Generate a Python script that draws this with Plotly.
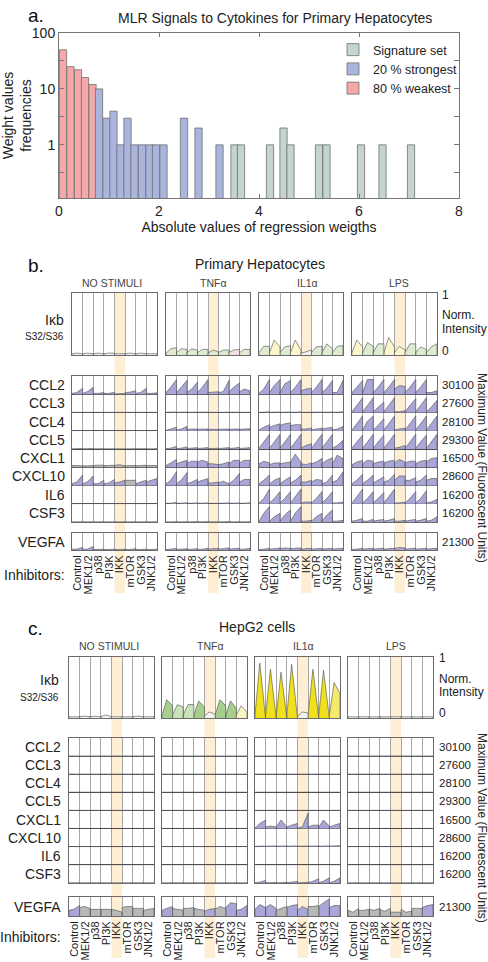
import plotly.graph_objects as go

W, H = 488, 962
FONT = "Liberation Sans, Arial, Helvetica, sans-serif"

# ---------------- panel a : histogram of |regression weights| ----------------
RED_X = [0.08, 0.23, 0.38, 0.52, 0.67]
RED_Y = [50, 25, 22, 16, 12]
BLUE_X = [0.80, 0.95, 1.09, 1.23, 1.37, 1.51, 1.66, 1.81, 1.94, 2.09, 2.50, 2.79, 3.21]
BLUE_Y = [10, 3, 4, 1, 3, 1, 1, 1, 1, 1, 3, 2, 1]
GREY_X = [3.51, 3.64, 4.22, 4.49, 4.63, 5.20, 5.35, 6.04, 6.47, 7.04]
GREY_Y = [1, 1, 1, 2, 1, 1, 1, 1, 1, 1]
BAR_W = 0.145

# ---------------- panels b / c : categories ----------------
STIMULI = ["NO STIMULI", "TNFα", "IL1α", "LPS"]
INHIBITORS = ["Control", "MEK1/2", "p38", "PI3K", "IKK", "mTOR", "GSK3", "JNK1/2"]
CYTOKINES = ["CCL2", "CCL3", "CCL4", "CCL5", "CXCL1", "CXCL10", "IL6", "CSF3"]
MAX_VALUES = ["30100", "27600", "28100", "29300", "16500", "28600", "16200", "16200"]
VEGFA_MAX = "21300"
HIGHLIGHT = "IKK"

# each cell: three time points, % of the cell height ; one list of 8 cells per stimulus
# ---- panel b (primary hepatocytes)
B_IKB = [
    [[2, 3, 2], [2, 3, 2], [2, 3, 2], [2, 3, 3], [2, 2, 2], [2, 3, 2], [2, 3, 2], [2, 2, 2]],
    [[3, 10, 12], [4, 10, 9], [4, 10, 8], [4, 9, 9], [3, 8, 5], [4, 8, 8], [4, 8, 9], [4, 9, 9]],
    [[4, 14, 14], [4, 24, 13], [4, 13, 15], [4, 24, 8], [3, 5, 8], [4, 13, 14], [4, 18, 10], [4, 14, 15]],
    [[4, 24, 13], [4, 20, 14], [4, 18, 18], [4, 28, 13], [4, 14, 8], [4, 18, 18], [4, 13, 9], [4, 13, 18]],
]
B_IKB_COL = ["wwwwwwww", "llllllrl", "lylywlll", "yllyylll"]

B_CCL2 = [
    [[5, 10, 35], [5, 15, 40], [5, 5, 10], [5, 5, 12], [3, 3, 5], [10, 12, 20], [5, 10, 35], [5, 5, 8]],
    [[10, 40, 85], [10, 40, 80], [10, 30, 70], [10, 40, 85], [10, 12, 15], [10, 15, 80], [15, 40, 65], [15, 30, 20]],
    [[5, 30, 85], [10, 50, 85], [10, 60, 80], [10, 40, 85], [20, 30, 35], [10, 40, 85], [10, 35, 80], [10, 10, 80]],
    [[10, 40, 80], [10, 85, 85], [10, 40, 85], [10, 40, 85], [30, 50, 45], [10, 40, 85], [10, 40, 85], [10, 10, 20]],
]
B_CCL3 = [
    [[1, 1, 1], [1, 1, 1], [1, 1, 1], [1, 1, 1], [1, 1, 1], [1, 1, 1], [1, 1, 1], [1, 1, 1]],
    [[1, 2, 3], [1, 2, 2], [1, 1, 2], [1, 2, 2], [1, 1, 1], [1, 1, 2], [1, 2, 2], [1, 1, 2]],
    [[1, 2, 4], [1, 2, 3], [1, 2, 3], [1, 2, 4], [1, 1, 1], [1, 2, 3], [1, 2, 3], [1, 2, 4]],
    [[5, 40, 85], [5, 40, 85], [5, 30, 60], [5, 40, 85], [5, 5, 10], [5, 40, 80], [5, 40, 85], [5, 30, 70]],
]
B_CCL4 = [
    [[1, 1, 2], [1, 1, 2], [1, 1, 2], [1, 1, 2], [1, 1, 1], [1, 1, 2], [1, 1, 2], [1, 1, 2]],
    [[2, 10, 20], [5, 10, 25], [8, 10, 10], [8, 10, 10], [8, 8, 8], [8, 10, 10], [8, 10, 10], [8, 10, 12]],
    [[5, 20, 35], [20, 30, 40], [30, 40, 45], [30, 35, 35], [10, 10, 15], [5, 10, 15], [10, 15, 20], [5, 10, 25]],
    [[5, 40, 85], [5, 55, 85], [5, 30, 70], [5, 40, 85], [5, 10, 15], [5, 40, 85], [5, 40, 85], [5, 40, 85]],
]
B_CCL5 = [
    [[1, 2, 3], [1, 2, 3], [1, 1, 2], [1, 1, 2], [1, 1, 1], [1, 1, 2], [1, 2, 2], [1, 1, 2]],
    [[2, 5, 15], [2, 5, 12], [3, 5, 8], [3, 5, 8], [3, 3, 5], [3, 5, 8], [3, 5, 10], [3, 5, 8]],
    [[5, 40, 85], [5, 40, 85], [5, 40, 85], [5, 40, 85], [5, 20, 30], [5, 40, 85], [5, 40, 85], [5, 20, 50]],
    [[5, 40, 80], [5, 40, 85], [5, 40, 80], [5, 40, 85], [5, 10, 20], [5, 40, 85], [5, 40, 80], [5, 40, 85]],
]
B_CXCL1 = [
    [[10, 10, 8], [8, 8, 10], [10, 12, 12], [10, 10, 12], [10, 15, 8], [8, 10, 10], [8, 10, 12], [10, 10, 10]],
    [[10, 25, 45], [20, 30, 40], [25, 35, 35], [30, 40, 30], [20, 20, 15], [15, 20, 30], [20, 40, 40], [25, 40, 40]],
    [[20, 35, 25], [15, 25, 25], [20, 25, 30], [30, 75, 30], [20, 15, 25], [20, 30, 50], [20, 40, 55], [20, 70, 50]],
    [[15, 30, 40], [20, 40, 35], [20, 30, 35], [25, 35, 40], [25, 45, 30], [25, 35, 35], [20, 35, 40], [30, 50, 55]],
]
B_CXCL10 = [
    [[10, 20, 60], [10, 20, 55], [10, 10, 30], [10, 15, 35], [15, 20, 30], [30, 30, 30], [10, 20, 30], [20, 30, 40]],
    [[10, 30, 80], [10, 30, 75], [10, 20, 35], [20, 30, 40], [15, 15, 20], [15, 25, 10], [10, 30, 70], [20, 35, 35]],
    [[10, 30, 60], [10, 30, 45], [10, 30, 50], [15, 30, 60], [20, 20, 30], [20, 35, 30], [10, 20, 60], [20, 30, 80]],
    [[10, 30, 65], [10, 30, 60], [15, 30, 50], [20, 30, 65], [30, 55, 55], [30, 30, 45], [20, 30, 60], [30, 40, 40]],
]
B_IL6 = [
    [[1, 1, 1], [1, 1, 1], [1, 1, 1], [1, 1, 1], [1, 1, 1], [1, 1, 1], [1, 1, 1], [1, 1, 1]],
    [[2, 3, 8], [2, 3, 6], [2, 3, 5], [2, 3, 5], [2, 2, 3], [2, 3, 5], [2, 3, 5], [2, 3, 6]],
    [[5, 30, 85], [5, 30, 70], [5, 30, 70], [5, 40, 85], [5, 10, 10], [5, 30, 70], [5, 30, 70], [5, 5, 10]],
    [[5, 40, 85], [5, 30, 70], [5, 30, 65], [5, 40, 85], [5, 5, 10], [5, 30, 70], [5, 30, 75], [5, 10, 25]],
]
B_CSF3 = [
    [[1, 1, 1], [1, 1, 1], [1, 1, 1], [1, 1, 1], [1, 1, 1], [1, 1, 1], [1, 1, 1], [1, 1, 1]],
    [[1, 1, 2], [1, 1, 2], [1, 1, 2], [1, 1, 2], [1, 1, 1], [1, 1, 2], [1, 1, 2], [1, 1, 2]],
    [[5, 50, 90], [5, 30, 50], [5, 40, 70], [5, 50, 90], [5, 5, 10], [5, 30, 50], [5, 40, 70], [5, 5, 10]],
    [[5, 10, 20], [5, 5, 15], [5, 10, 15], [5, 10, 20], [5, 5, 10], [5, 10, 15], [5, 10, 20], [5, 10, 30]],
]
B_VEGFA = [
    [[5, 5, 15], [5, 5, 20], [3, 3, 5], [3, 3, 5], [3, 3, 5], [3, 3, 8], [3, 3, 5], [3, 3, 5]],
    [[3, 5, 10], [3, 5, 8], [3, 5, 8], [3, 5, 10], [5, 8, 10], [5, 8, 12], [5, 8, 10], [5, 5, 10]],
    [[3, 5, 10], [5, 8, 12], [8, 12, 10], [8, 10, 12], [5, 8, 10], [5, 8, 10], [5, 8, 10], [5, 8, 10]],
    [[3, 5, 10], [5, 8, 10], [5, 8, 10], [5, 8, 10], [8, 15, 12], [5, 8, 10], [5, 8, 10], [5, 8, 10]],
]
B_CYTO = [B_CCL2, B_CCL3, B_CCL4, B_CCL5, B_CXCL1, B_CXCL10, B_IL6, B_CSF3]
B_CYTO_COL = [
    ["pppppppp"] * 4, ["pppppppp"] * 4, ["pppppppp"] * 4, ["pppppppp"] * 4,
    ["gggggggg", "pppppppp", "pppppppp", "pppppppp"],
    ["pppppgpp", "pppppppp", "pppppppp", "pppppppp"],
    ["pppppppp"] * 4, ["pppppppp"] * 4,
]
B_VEGFA_COL = ["pppppppp", "pppppppp", "pppppppp", "pppppppp"]

# ---- panel c (HepG2 cells)
C_FLAT = [[1, 1, 1], [1, 1, 1], [1, 1, 1], [1, 1, 1], [1, 1, 1], [1, 1, 1], [1, 1, 1], [1, 1, 1]]
C_IKB = [
    [[2, 2, 2], [2, 3, 2], [2, 3, 2], [2, 5, 2], [2, 2, 2], [2, 2, 2], [2, 3, 2], [2, 2, 2]],
    [[5, 30, 20], [5, 22, 18], [5, 22, 22], [5, 28, 18], [3, 10, 6], [5, 30, 20], [5, 28, 16], [5, 20, 10]],
    [[5, 90, 5], [5, 80, 5], [5, 75, 5], [5, 88, 5], [2, 10, 8], [5, 80, 5], [5, 78, 5], [5, 58, 40]],
    [[2, 2, 2], [2, 2, 2], [2, 2, 2], [2, 2, 2], [2, 2, 2], [2, 2, 2], [2, 2, 2], [2, 2, 2]],
]
C_IKB_COL = ["wwwwwwww", "GhhGwGGk", "YYYYwYYj", "wwwwwwww"]
C_CCL2 = [C_FLAT, C_FLAT, C_FLAT, C_FLAT]
C_CCL3 = [C_FLAT, C_FLAT, C_FLAT, C_FLAT]
C_CCL4 = [C_FLAT, C_FLAT, C_FLAT, C_FLAT]
C_CCL5 = [C_FLAT, C_FLAT, C_FLAT, C_FLAT]
C_CXCL1 = [
    C_FLAT, C_FLAT,
    [[2, 30, 50], [10, 15, 10], [10, 50, 10], [10, 20, 30], [5, 10, 90], [10, 20, 20], [10, 50, 15], [10, 20, 30]],
    C_FLAT,
]
C_CXCL10 = [
    C_FLAT, C_FLAT,
    [[2, 3, 4], [3, 4, 5], [3, 4, 5], [3, 4, 5], [3, 3, 4], [3, 4, 5], [3, 4, 5], [4, 5, 6]],
    C_FLAT,
]
C_IL6 = [C_FLAT, C_FLAT, C_FLAT, C_FLAT]
C_CSF3 = [
    C_FLAT, C_FLAT,
    [[2, 5, 15], [2, 2, 3], [2, 2, 4], [2, 5, 10], [2, 2, 5], [2, 10, 25], [2, 10, 30], [2, 10, 30]],
    C_FLAT,
]
C_VEGFA = [
    [[30, 35, 55], [45, 50, 40], [35, 35, 35], [35, 35, 35], [35, 30, 20], [45, 50, 50], [40, 40, 40], [30, 35, 40]],
    [[30, 40, 50], [40, 35, 30], [40, 40, 45], [40, 35, 30], [25, 35, 40], [35, 50, 40], [45, 70, 65], [30, 35, 55]],
    [[35, 60, 45], [45, 60, 40], [30, 40, 50], [45, 55, 60], [30, 50, 35], [50, 50, 55], [50, 70, 90], [45, 55, 55]],
    [[30, 20, 40], [30, 30, 35], [35, 30, 40], [35, 25, 40], [20, 20, 20], [35, 20, 25], [40, 40, 40], [45, 55, 60]],
]
C_CYTO = [C_CCL2, C_CCL3, C_CCL4, C_CCL5, C_CXCL1, C_CXCL10, C_IL6, C_CSF3]
C_CYTO_COL = [["pppppppp"] * 4 for _ in CYTOKINES]
C_VEGFA_COL = ["pggggggg", "pgggpgpp", "ppgppgpp", "gggggggp"]

PALETTE = {
    "p": "#aaa7d8", "g": "#b8b8b8", "w": "#f2f2f2", "l": "#deebd0", "y": "#fbf6cc",
    "r": "#f2e0e4", "G": "#a6cf8c", "h": "#c9e3b6", "Y": "#f1e01c", "j": "#f4ea6c", "k": "#faf4c2",
}
TPOS = [0.0, 0.45, 1.0]


def px(v):
    return v / W


def py(v):
    return 1 - v / H


fig = go.Figure()
lay = {}
annotations = []
shapes = []

# ---------------- panel a ----------------
for name, xs, ys, col in [("80 % weakest", RED_X, RED_Y, "#f4a8aa"),
                          ("20 % strongest", BLUE_X, BLUE_Y, "#aab5dd"),
                          ("Signature set", GREY_X, GREY_Y, "#c4d4ce")]:
    fig.add_trace(go.Bar(x=xs, y=ys, width=BAR_W, name=name, xaxis="x", yaxis="y",
                         marker=dict(color=col, line=dict(color="#6e6e6e", width=0.8)),
                         hoverinfo="skip"))

lay["xaxis"] = dict(domain=[px(59), px(459)], range=[0, 8], anchor="y", tickvals=[0, 2, 4, 6, 8],
                    ticks="inside", ticklen=4, tickcolor="#777", showline=True, mirror="ticks",
                    linecolor="#777", showgrid=False, zeroline=False, automargin=False,
                    tickfont=dict(size=14, color="#222"),
                    title=dict(text="Absolute values of regression weigths", standoff=2,
                               font=dict(size=14, color="#222")))
lay["yaxis"] = dict(domain=[py(198), py(33)], type="log", range=[-0.95, 2.0], anchor="x",
                    tickvals=[0.316, 1, 3.16, 10, 31.6, 100], ticktext=["", "1", "", "10", "", "100"],
                    ticks="inside", ticklen=5, tickcolor="#777", showline=True, mirror="ticks",
                    linecolor="#777", showgrid=False, zeroline=False, automargin=False,
                    tickfont=dict(size=14, color="#222"),
                    title=dict(text="Weight values<br>frequencies", standoff=4,
                               font=dict(size=14, color="#222")))
annotations.append(dict(text="a.", x=px(26), y=py(15), xanchor="left", yanchor="middle",
                        font=dict(size=19, color="#111"), showarrow=False, xref="paper", yref="paper"))
annotations.append(dict(text="MLR Signals to Cytokines for Primary Hepatocytes", x=px(275), y=py(18),
                        xanchor="center", yanchor="middle", font=dict(size=14, color="#222"),
                        showarrow=False, xref="paper", yref="paper"))

# ---------------- panels b / c ----------------
PANELS = [
    dict(tag="b.", title="Primary Hepatocytes", ikb=B_IKB, ikbcol=B_IKB_COL, cyto=B_CYTO, cytocol=B_CYTO_COL,
         veg=B_VEGFA, vegcol=B_VEGFA_COL,
         blocks=[(72, 157), (166, 250), (259, 343), (352, 437)],
         ikb_y=(293, 355), cyto_y=(376, 522), veg_y=(533, 550), label_bottom=593,
         tag_xy=(26, 265), title_xy=(260, 264), head_y=283, head_x=[112, 213, 307, 399],
         left_x=67, ikb_lab_x=66, ikb_lab_y=(320, 336), inhib_y=575, right_x=440,
         norm_y=[295, 315, 329, 351], vert_y=468),
    dict(tag="c.", title="HepG2 cells", ikb=C_IKB, ikbcol=C_IKB_COL, cyto=C_CYTO, cytocol=C_CYTO_COL,
         veg=C_VEGFA, vegcol=C_VEGFA_COL,
         blocks=[(69, 154), (162, 247), (255, 340), (348, 433)],
         ikb_y=(657, 718), cyto_y=(738, 883), veg_y=(897, 916), label_bottom=958,
         tag_xy=(26, 628), title_xy=(257, 627), head_y=646, head_x=[109, 210, 303, 396],
         left_x=63, ikb_lab_x=61, ikb_lab_y=(680, 697), inhib_y=937, right_x=437,
         norm_y=[658, 679, 692, 713], vert_y=828),
]

NI = len(INHIBITORS)
NC = len(CYTOKINES)
HI = INHIBITORS.index(HIGHLIGHT)


def ann(text, x, y, xa="center", size=12, color="#222", **kw):
    d = dict(text=text, x=px(x), y=py(y), xanchor=xa, yanchor="middle", showarrow=False,
             xref="paper", yref="paper", font=dict(size=size, color=color, family=FONT))
    d.update(kw)
    annotations.append(d)


ax = 2
for P in PANELS:
    ann(P["tag"], P["tag_xy"][0], P["tag_xy"][1], xa="left", size=19, color="#111")
    ann(P["title"], P["title_xy"][0], P["title_xy"][1], size=14)
    for s, stim in enumerate(STIMULI):
        ann(stim, P["head_x"][s], P["head_y"], size=10.5, color="#444")
        x0p, x1p = P["blocks"][s]
        sections = [("ikb", P["ikb_y"]), ("cyto", P["cyto_y"]), ("veg", P["veg_y"])]
        ikb_xref = None
        for kind, (ytop, ybot) in sections:
            xn, yn = "x%d" % ax, "y%d" % ax
            if ikb_xref is None:
                ikb_xref = xn
            xa = dict(domain=[px(x0p), px(x1p)], range=[0, NI], anchor=yn, showline=True, mirror=True,
                      linecolor="#6a6a6a", linewidth=1, zeroline=False, automargin=False, fixedrange=True)
            if kind == "veg":
                xa.update(tickmode="array", tickvals=[i + 0.5 for i in range(NI)], ticktext=INHIBITORS,
                          tickangle=-90, ticks="", showgrid=False,
                          tickfont=dict(size=11, color="#222", family=FONT),
                          minor=dict(tickmode="array", tickvals=list(range(1, NI)), showgrid=True,
                                     gridcolor="#a8a8a8", gridwidth=1, ticks=""))
            else:
                xa.update(showticklabels=False, ticks="", showgrid=True, dtick=1, tick0=0,
                          gridcolor="#a8a8a8", gridwidth=1)
            ya = dict(domain=[py(ybot), py(ytop)], anchor=xn, showline=True, mirror=True,
                      linecolor="#6a6a6a", linewidth=1, zeroline=False, showticklabels=False,
                      ticks="", automargin=False, fixedrange=True)
            if kind == "cyto":
                ya.update(range=[0, NC], showgrid=True, dtick=1, tick0=0, gridcolor="#505050", gridwidth=1)
            else:
                ya.update(range=[0, 1], showgrid=False)
            lay["xaxis%d" % ax] = xa
            lay["yaxis%d" % ax] = ya

            # rows of cells for this section
            if kind == "ikb":
                rows = [(0.0, 1.0, P["ikb"][s], P["ikbcol"][s])]
            elif kind == "veg":
                rows = [(0.0, 1.0, P["veg"][s], P["vegcol"][s])]
            else:
                rows = [(NC - 1 - r, 0.95, P["cyto"][r][s], P["cytocol"][r][s]) for r in range(NC)]
            groups = {}
            for base, scale, vals, codes in rows:
                for i, (trip, code) in enumerate(zip(vals, codes)):
                    gx, gy = groups.setdefault(code, ([], []))
                    gx.extend([i + TPOS[0]] + [i + t for t in TPOS] + [i + TPOS[-1], None])
                    gy.extend([base] + [base + v / 100.0 * scale for v in trip] + [base, None])
            for code, (gx, gy) in groups.items():
                fig.add_trace(go.Scatter(x=gx, y=gy, xaxis=xn, yaxis=yn, mode="lines", fill="toself",
                                         fillcolor=PALETTE[code], line=dict(color="#4d4d4d", width=0.6),
                                         hoverinfo="skip", showlegend=False))
            # highlighted inhibitor column inside the box
            shapes.append(dict(type="rect", xref=xn, yref=yn + " domain", x0=HI, x1=HI + 1, y0=0, y1=1,
                               fillcolor="#fde0a6", line=dict(width=0), layer="below"))
            ax += 1
        # light stripe through the whole column
        shapes.append(dict(type="rect", xref=ikb_xref, yref="paper", x0=HI, x1=HI + 1,
                           y0=py(P["label_bottom"]), y1=py(P["ikb_y"][0]),
                           fillcolor="#feeed4", line=dict(width=0), layer="below"))

    # left labels
    ann("Iκb", P["ikb_lab_x"], P["ikb_lab_y"][0], xa="right", size=14)
    ann("S32/S36", P["ikb_lab_x"], P["ikb_lab_y"][1], xa="right", size=10)
    ct, cb = P["cyto_y"]
    rh = (cb - ct) / NC
    for r, name in enumerate(CYTOKINES):
        ann(name, P["left_x"], ct + (r + 0.5) * rh, xa="right", size=14)
        ann(MAX_VALUES[r], P["right_x"], ct + (r + 0.5) * rh, xa="left", size=11.5)
    vy = (P["veg_y"][0] + P["veg_y"][1]) / 2
    ann("VEGFA", P["left_x"], vy, xa="right", size=14)
    ann(VEGFA_MAX, P["right_x"], vy, xa="left", size=11.5)
    ann("Inhibitors:", P["left_x"], P["inhib_y"], xa="right", size=14)
    for txt, yy in zip(["1", "Norm.", "Intensity", "0"], P["norm_y"]):
        ann(txt, P["right_x"], yy, xa="left", size=12)
    ann("Maximum Value (Fluorescent Units)", 482, P["vert_y"], size=12, textangle=90)

fig.update_layout(
    width=W, height=H, margin=dict(l=0, r=0, t=0, b=0),
    paper_bgcolor="white", plot_bgcolor="rgba(0,0,0,0)",
    font=dict(family=FONT, color="#222"),
    showlegend=True, hovermode=False, barmode="overlay",
    legend=dict(x=px(333), y=py(35), xanchor="left", yanchor="top", traceorder="reversed",
                bgcolor="rgba(0,0,0,0)", font=dict(size=12.5, color="#222"), tracegroupgap=0),
    annotations=annotations, shapes=shapes,
    **lay,
)
fig.write_html("out.html", config={"displayModeBar": False},
               post_script="document.body.style.margin='0px';"
                           "document.documentElement.style.overflow='hidden';")
